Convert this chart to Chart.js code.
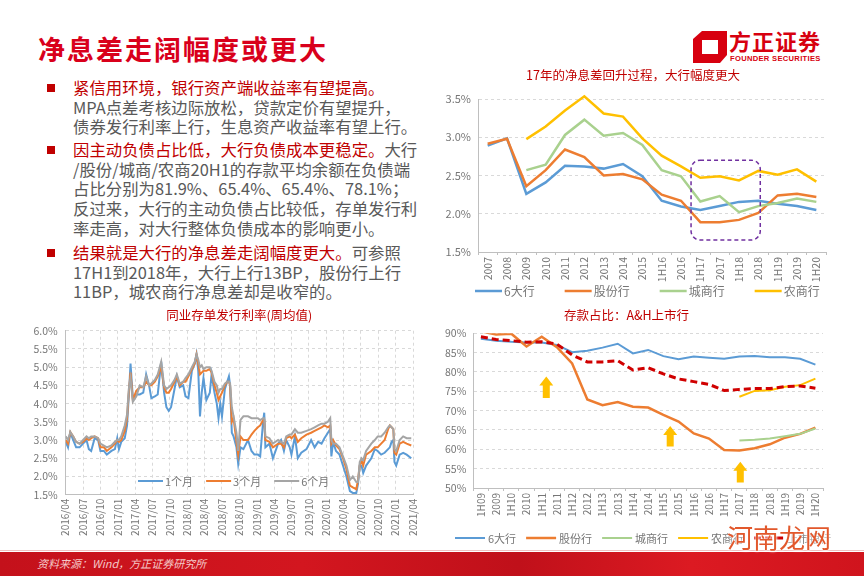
<!DOCTYPE html>
<html>
<head>
<meta charset="utf-8">
<script src="https://cdn.jsdelivr.net/npm/chart.js@4.4.0/dist/chart.umd.min.js"></script>
<style>
  body { margin: 0; width: 864px; height: 576px; overflow: hidden; background: #fff; position: relative;
         font-family: 'Noto Sans CJK SC', 'Noto Sans', sans-serif; }
  .abs { position: absolute; }
  #title { left: 38px; top: 31px; font-size: 27px; font-weight: bold; color: #d9001b; letter-spacing: 2px; line-height: 36px; }
  .para { left: 73px; font-size: 16.4px; line-height: 19.7px; color: #595959; white-space: nowrap; }
  .para b { font-weight: normal; color: #c00000; }
  .bullet { left: 47px; width: 8px; height: 8px; background: #c00000; }
  #logoText { left: 729px; top: 27px; font-size: 22px; font-weight: bold; color: #d7000f; letter-spacing: 1px; line-height: 26px; }
  #logoSub { left: 730px; top: 54px; font-family: 'Liberation Sans', sans-serif; font-size: 7.6px; font-weight: bold; color: #d7000f; letter-spacing: 0.3px; }
  #footer { left: 0; top: 552px; width: 864px; height: 24px;
            background: linear-gradient(90deg, #c4111b 0%, #d3161f 35%, #c0101a 60%, #dc1a22 80%, #d0141d 100%); }
  #footLine { left: 0; top: 550px; width: 864px; height: 1px; background: #efc0c0; }
  #source { left: 37px; top: 555px; font-size: 11px; font-style: italic; color: #f4c8c8; line-height: 16px; }
  #wm { left: 727px; top: 518px; font-size: 26px; color: #e2582c; text-shadow: 0 0 3px #fff, 0 0 3px #fff; }
  canvas { position: absolute; }
</style>
</head>
<body>
<div id="title" class="abs">净息差走阔幅度或更大</div>

<svg class="abs" style="left:693px;top:31px" width="34" height="32" viewBox="0 0 34 32">
  <path fill="#d7000f" fill-rule="evenodd" d="M9 0 H34 V24 L27 32 H0 V8 Z M9 9 H25 V23 H9 Z"/>
</svg>
<div id="logoText" class="abs">方正证券</div>
<div id="logoSub" class="abs">FOUNDER SECURITIES</div>

<div class="bullet abs" style="top:84px"></div>
<div class="para abs" style="top:78px"><b>紧信用环境，银行资产端收益率有望提高。</b><br>MPA点差考核边际放松，贷款定价有望提升，<br>债券发行利率上行，生息资产收益率有望上行。</div>
<div class="bullet abs" style="top:146px"></div>
<div class="para abs" style="top:140px"><b>因主动负债占比低，大行负债成本更稳定。</b>大行<br>/股份/城商/农商20H1的存款平均余额在负债端<br>占比分别为81.9%、65.4%、65.4%、78.1%；<br>反过来，大行的主动负债占比较低，存单发行利<br>率走高，对大行整体负债成本的影响更小。</div>
<div class="bullet abs" style="top:249px"></div>
<div class="para abs" style="top:243px"><b>结果就是大行的净息差走阔幅度更大。</b>可参照<br>17H1到2018年，大行上行13BP，股份行上行<br>11BP，城农商行净息差却是收窄的。</div>

<canvas id="nimChart" width="400" height="244" style="left:440px;top:62px"></canvas>
<canvas id="cdChart" width="430" height="250" style="left:0px;top:302px"></canvas>
<canvas id="depChart" width="434" height="250" style="left:430px;top:302px"></canvas>

<div id="footLine" class="abs"></div>
<div id="footer" class="abs"></div>
<div id="source" class="abs">资料来源：Wind，方正证券研究所</div>
<div id="wm" class="abs">河南龙网</div>

<script>
// ---- 净息差 (top right)
const nimLabels = ["2007", "2008", "2009", "2010", "2011", "2012", "2013", "2014", "2015", "1H16",
  "2016", "1H17", "2017", "1H18", "2018", "1H19", "2019", "1H20"];
const nimBig6 = [2.89, 2.985, 2.26, 2.41, 2.627, 2.618, 2.59, 2.65, 2.49, 2.17, 2.094, 2.05, 2.10, 2.155, 2.17, 2.13, 2.10, 2.05];
const nimJoint = [2.915, 2.98, 2.36, 2.57, 2.84, 2.74, 2.50, 2.52, 2.45, 2.25, 2.17, 1.89, 1.89, 1.92, 2.01, 2.24, 2.26, 2.22];
const nimCity = [null, null, 2.57, 2.64, 3.03, 3.23, 3.02, 3.055, 2.90, 2.57, 2.49, 2.16, 2.23, 2.02, 2.10, 2.14, 2.20, 2.155];
const nimRural = [null, null, 2.975, 3.14, 3.35, 3.535, 3.31, 3.27, 2.985, 2.76, 2.62, 2.47, 2.49, 2.435, 2.56, 2.51, 2.58, 2.42];

// ---- 同业存单发行利率 (bottom left), x = months after 2016/04
const cdMonths = [
  0, 0.4, 0.8, 1.3, 1.8, 2.4, 3.0, 3.6, 4.0, 4.4,
  5.0, 5.6, 6.0, 6.6, 7.1, 7.9, 8.5, 8.9, 9.2, 9.6,
  10.2, 10.6, 10.9, 11.2, 11.6, 12.2, 12.8, 13.4, 13.9, 14.4,
  14.8, 15.4, 15.9, 16.5, 17.0, 17.4, 17.8, 18.2, 18.8, 19.2,
  19.7, 20.3, 20.7, 21.2, 21.8, 22.3, 22.6, 22.9, 23.2, 23.5,
  23.8, 24.3, 24.9, 25.2, 25.7, 26.1, 26.4, 26.7, 27.0, 27.5,
  27.9, 28.2, 28.4, 28.7, 29.0, 29.5, 29.8, 30.2, 30.7, 31.5,
  32.1, 32.6, 33.2, 33.6, 34.1, 34.3, 34.5, 35.2, 35.8, 36.7,
  37.2, 37.7, 38.1, 38.7, 39.0, 39.6, 40.1, 40.7, 41.6, 42.4,
  43.0, 43.6, 44.2, 44.7, 45.3, 45.7, 45.9, 46.2, 46.7, 47.3,
  47.9, 48.5, 49.1, 49.6, 50.2, 50.5, 50.8, 51.1, 51.4, 51.9,
  52.8, 53.4, 53.9, 54.5, 55.1, 55.7, 56.0, 56.3, 56.6, 56.8,
  57.1, 57.7, 58.3, 58.9, 59.7];
const cd1M = [
  2.95, 2.8, 3.2, 3.0, 2.8, 2.8, 2.9, 3.0, 2.75, 2.7,
  3.05, 3.0, 2.7, 2.7, 2.6, 2.7, 2.75, 3.05, 2.75, 2.95,
  3.05, 3.4, 4.2, 5.1, 4.15, 4.25, 4.25, 4.3, 4.8, 4.5,
  4.15, 4.2, 4.25, 5.15, 4.3, 3.9, 3.8, 3.9, 4.4, 4.75,
  4.45, 4.5, 4.2, 4.15, 4.9, 5.1, 5.35, 4.9, 3.65, 4.3,
  4.7, 4.1, 4.3, 4.8, 4.3, 4.0, 3.6, 4.0, 3.65, 4.4,
  4.6, 4.75, 4.5, 3.2, 3.1, 2.8, 2.35, 2.8, 2.75, 3.0,
  2.7, 2.6, 2.6, 2.55, 3.5, 3.75, 2.8, 2.9, 2.5, 2.9,
  3.0, 2.7, 3.0, 2.8, 2.6, 3.1, 2.5, 2.65, 2.75, 3.0,
  2.8, 2.95, 2.9, 3.05, 3.2, 3.3, 2.55, 2.95, 2.7, 2.6,
  2.3, 2.0, 1.6, 1.55, 1.55, 1.8, 2.3, 2.3, 2.1, 2.3,
  2.5, 2.75, 2.7, 2.6, 2.65, 2.75, 2.8, 2.95, 3.0, 2.4,
  2.3, 2.6, 2.65, 2.6, 2.5];
const cd3M = [
  3.0, 2.9, 3.22, 3.1, 2.95, 2.9, 2.95, 3.05, 3.0, 3.05,
  3.1, 3.05, 2.8, 2.8, 2.7, 2.8, 2.9, 3.0, 2.95, 3.0,
  3.25, 3.6, 4.3, 4.85, 4.1, 4.35, 4.45, 4.45, 4.6, 4.5,
  4.5, 4.6, 4.75, 5.0, 4.45, 4.3, 4.3, 4.4, 4.6, 4.75,
  4.5, 4.6, 4.6, 4.75, 4.95, 5.1, 5.35, 5.1, 4.8, 4.85,
  4.9, 4.9, 4.95, 4.85, 4.5, 4.3, 4.1, 4.2, 4.3, 4.5,
  4.6, 4.6, 4.5, 3.5, 3.6, 2.95, 2.6, 3.1, 3.0, 3.0,
  3.15, 3.25, 3.35, 3.4, 3.55, 3.55, 3.0, 2.95, 2.8, 2.9,
  2.9, 2.8, 3.05, 3.1, 3.05, 3.15, 2.95, 3.05, 3.15, 3.2,
  3.25, 3.3, 3.35, 3.4, 3.35, 3.4, 2.9, 3.0, 2.85, 2.75,
  2.5, 2.2, 1.75, 1.7, 1.65, 1.9, 2.3, 2.45, 2.3, 2.6,
  2.7, 2.8, 2.8, 2.9, 3.0, 3.3, 3.4, 3.35, 3.3, 2.65,
  2.6, 2.9, 2.95, 2.9, 2.85];
const cd6M = [
  3.1, 3.0, 3.22, 3.1, 2.95, 2.9, 3.0, 3.1, 3.05, 3.1,
  3.1, 3.05, 2.9, 2.85, 2.8, 2.85, 2.95, 3.0, 3.0, 3.1,
  3.4, 3.7, 4.4, 4.7, 4.05, 4.2, 4.5, 4.45, 4.75, 4.5,
  4.55, 4.65, 4.8, 5.15, 4.5, 4.4, 4.45, 4.5, 4.65, 4.8,
  4.55, 4.6, 4.7, 4.8, 5.0, 5.15, 5.35, 5.2, 5.0, 5.05,
  4.95, 5.0, 5.0, 4.9, 4.6, 4.5, 4.3, 4.4, 4.4, 4.55,
  4.6, 4.6, 4.55, 3.9, 3.65, 3.2, 2.7, 3.55, 3.65, 3.65,
  3.6, 3.6, 3.6, 3.55, 3.6, 3.6, 3.1, 3.05, 2.9, 3.0,
  2.95, 2.9, 3.1, 3.15, 3.15, 3.3, 3.2, 3.2, 3.25, 3.3,
  3.35, 3.4, 3.45, 3.45, 3.5, 3.6, 3.0, 2.9, 2.9, 2.8,
  2.55, 2.3, 1.9, 2.0, 1.85, 1.85, 2.4, 2.5, 2.45, 2.7,
  2.9, 3.0, 3.1, 3.1, 3.2, 3.35, 3.4, 3.35, 3.3, 2.75,
  2.7, 3.0, 3.1, 3.05, 3.05];
const cdTickLabels = ["2016/04", "2016/07", "2016/10", "2017/01", "2017/04", "2017/07", "2017/10",
  "2018/01", "2018/04", "2018/07", "2018/10", "2019/01", "2019/04", "2019/07", "2019/10",
  "2020/01", "2020/04", "2020/07", "2020/10", "2021/01", "2021/04"];

// ---- 存款占比 (bottom right)
const depLabels = ["1H09", "2009", "1H10", "2010", "1H11", "2011", "1H12", "2012", "1H13", "2013", "1H14",
  "2014", "1H15", "2015", "1H16", "2016", "1H17", "2017", "1H18", "2018", "1H19", "2019", "1H20"];
const depBig6 = [88.6, 88.1, 87.8, 87.6, 87.6, 87.0, 85.1, 85.5, 86.3, 87.3, 84.8, 85.7, 84.1, 83.3, 84.0, 83.7, 83.4, 84.0, 84.1, 83.8, 83.8, 83.4, 81.9];
const depJoint = [90.5, 89.7, 89.9, 86.6, 89.1, 86.4, 82.2, 72.9, 71.4, 72.2, 71.0, 70.8, 68.9, 67.2, 64.1, 62.8, 59.8, 59.7, 60.3, 61.3, 63.0, 64.0, 65.6];
const depCity = [null, null, null, null, null, null, null, null, null, null, null, null, null, null, null, null, null,
  62.3, 62.5, 62.8, 63.4, 64.0, 65.4];
const depRural = [null, null, null, null, null, null, null, null, null, null, null, null, null, null, null, null, null,
  73.6, 75.1, 75.3, 76.2, 76.6, 78.3];
const depListed = [89.1, 88.4, 88.1, 87.7, 87.8, 87.2, 84.4, 82.6, 82.6, 82.9, 80.5, 81.1, 79.5, 78.2, 77.5, 76.8, 75.2, 75.5, 75.7, 75.7, 76.2, 76.4, 75.8];

const FONT = "'Noto Sans CJK SC', 'Noto Sans', sans-serif";
Chart.defaults.font.family = FONT;
Chart.defaults.color = "#767676";

const BLUE = "#5b9bd5", ORANGE = "#ed7d31", GRAY = "#a5a5a5", GREEN = "#a9d18e", YELLOW = "#ffc000", RED = "#d00000";

// legend drawn as a line + text row
const lineLegend = {
  id: "lineLegend",
  afterDraw(chart, args, o) {
    if (!o || !o.show) return;
    const ctx = chart.ctx;
    ctx.save();
    ctx.font = o.size + "px " + FONT;
    ctx.textBaseline = "middle";
    let x = o.x;
    chart.data.datasets.forEach((ds) => {
      ctx.strokeStyle = ds.borderColor;
      ctx.lineWidth = ds.borderWidth;
      ctx.setLineDash(ds.borderDash || []);
      ctx.beginPath();
      ctx.moveTo(x, o.y);
      ctx.lineTo(x + o.lineLen, o.y);
      ctx.stroke();
      ctx.setLineDash([]);
      ctx.fillStyle = "#767676";
      ctx.fillText(ds.label, x + o.lineLen + o.gap, o.y + 0.5);
      x += o.lineLen + o.gap + ctx.measureText(ds.label).width + o.spacing;
    });
    ctx.restore();
  },
};

// dashed box and up arrows, placed in data units
const marks = {
  id: "marks",
  afterDatasetsDraw(chart, args, o) {
    const ctx = chart.ctx;
    const xs = chart.scales.x, ys = chart.scales.y;
    ctx.save();
    (o.boxes || []).forEach((b) => {
      const x0 = xs.getPixelForValue(b.x0), x1 = xs.getPixelForValue(b.x1);
      const y0 = ys.getPixelForValue(b.y1), y1 = ys.getPixelForValue(b.y0);
      ctx.strokeStyle = "#7030a0";
      ctx.lineWidth = 1.5;
      ctx.setLineDash([4, 3]);
      ctx.beginPath();
      ctx.roundRect(x0, y0, x1 - x0, y1 - y0, 9);
      ctx.stroke();
    });
    ctx.setLineDash([]);
    (o.arrows || []).forEach((a) => {
      const cx = xs.getPixelForValue(a.x);
      const top = ys.getPixelForValue(a.y1), bot = ys.getPixelForValue(a.y0);
      ctx.fillStyle = YELLOW;
      ctx.beginPath();
      ctx.moveTo(cx, top);
      ctx.lineTo(cx + 7, top + 9);
      ctx.lineTo(cx + 3.5, top + 9);
      ctx.lineTo(cx + 3.5, bot);
      ctx.lineTo(cx - 3.5, bot);
      ctx.lineTo(cx - 3.5, top + 9);
      ctx.lineTo(cx - 7, top + 9);
      ctx.closePath();
      ctx.fill();
    });
    ctx.restore();
  },
};

function line(label, data, color, order, extra) {
  return Object.assign({ label, data, borderColor: color, backgroundColor: color, borderWidth: 2.5,
    pointRadius: 0, tension: 0, order }, extra || {});
}

const dashGrid = { color: "#d9d9d9", lineWidth: 1, drawTicks: false };

new Chart(document.getElementById("nimChart"), {
  type: "line",
  data: {
    labels: nimLabels,
    datasets: [
      line("6大行", nimBig6, BLUE, 3, { clip: 8 }),
      line("股份行", nimJoint, ORANGE, 2, { clip: 8 }),
      line("城商行", nimCity, GREEN, 1, { clip: 8 }),
      line("农商行", nimRural, YELLOW, 0, { clip: 8 }),
    ],
  },
  plugins: [lineLegend, marks],
  options: {
    responsive: false,
    animation: false,
    layout: { padding: { right: 14, bottom: 14 } },
    plugins: {
      legend: { display: false },
      tooltip: { enabled: false },
      title: { display: true, text: "17年的净息差回升过程，大行幅度更大", color: "#c00000",
        font: { size: 12.5, weight: "normal" }, padding: { top: 6, bottom: 16 } },
      lineLegend: { show: true, x: 35, y: 229, size: 12, lineLen: 27, gap: 2, spacing: 30 },
      marks: { boxes: [{ x0: 10.52, x1: 14.1, y0: 1.657, y1: 2.70 }] },
    },
    scales: {
      x: {
        offset: true,
        grid: { drawOnChartArea: false, drawTicks: true, tickLength: 3, color: "#bfbfbf", offset: true },
        border: { color: "#bfbfbf" },
        ticks: { minRotation: 90, maxRotation: 90, autoSkip: false, padding: 2, font: { size: 10.5 } },
        afterFit(s) { s.height = 40; },
      },
      y: {
        min: 1.5, max: 3.5,
        grid: dashGrid,
        border: { color: "#bfbfbf", dash: [3, 3] },
        ticks: { stepSize: 0.5, padding: 7, font: { size: 11 }, callback: (v) => v.toFixed(1) + "%" },
        afterFit(s) { s.width = 38; },
      },
    },
  },
});

function pts(ys) {
  return ys.map((v, i) => ({ x: cdMonths[i], y: v }));
}

new Chart(document.getElementById("cdChart"), {
  type: "line",
  data: {
    datasets: [
      line("1个月", pts(cd1M), BLUE, 2, { borderWidth: 2 }),
      line("3个月", pts(cd3M), ORANGE, 1, { borderWidth: 2 }),
      line("6个月", pts(cd6M), GRAY, 0, { borderWidth: 2 }),
    ],
  },
  plugins: [lineLegend],
  options: {
    responsive: false,
    animation: false,
    layout: { padding: { right: 17, bottom: 5 } },
    plugins: {
      legend: { display: false },
      tooltip: { enabled: false },
      title: { display: true, fullSize: false, text: "同业存单发行利率(周均值)", color: "#c00000",
        font: { size: 12.5, weight: "normal" }, padding: { top: 5.5, bottom: 8.2 } },
      lineLegend: { show: true, x: 138, y: 179, size: 11, lineLen: 25, gap: 2, spacing: 13 },
    },
    scales: {
      x: {
        type: "linear", min: 0, max: 60,
        grid: dashGrid,
        border: { color: "#bfbfbf", dash: [3, 3] },
        ticks: { stepSize: 3, autoSkip: false, minRotation: 90, maxRotation: 90, padding: 4, font: { size: 10 },
          callback: (v) => cdTickLabels[Math.round(v / 3)] },
        afterFit(s) { s.height = 52.3; },
      },
      y: {
        min: 1.5, max: 6.0,
        grid: dashGrid,
        border: { color: "#bfbfbf", dash: [3, 3] },
        ticks: { stepSize: 0.5, padding: 8, font: { size: 10.5 }, callback: (v) => v.toFixed(1) + "%" },
        afterFit(s) { s.width = 65.7; },
      },
    },
  },
});

new Chart(document.getElementById("depChart"), {
  type: "line",
  data: {
    labels: depLabels,
    datasets: [
      line("6大行", depBig6, BLUE, 4, { borderWidth: 2 }),
      line("股份行", depJoint, ORANGE, 3),
      line("城商行", depCity, GREEN, 2, { borderWidth: 2 }),
      line("农商行", depRural, YELLOW, 1, { borderWidth: 2 }),
      line("上市银行", depListed, RED, 0, { borderWidth: 3, borderDash: [7, 4] }),
    ],
  },
  plugins: [lineLegend, marks],
  options: {
    responsive: false,
    animation: false,
    layout: { padding: { right: 41, bottom: 14 } },
    plugins: {
      legend: { display: false },
      tooltip: { enabled: false },
      title: { display: true, text: "存款占比：A&H上市行", color: "#c00000",
        font: { size: 12.5, weight: "normal" }, padding: { top: 5.5, bottom: 10.8 } },
      lineLegend: { show: true, x: 25, y: 236, size: 11, lineLen: 30, gap: 3, spacing: 10 },
      marks: { arrows: [{ x: 4.3, y0: 73.3, y1: 78.8 }, { x: 12.45, y0: 60.7, y1: 66.0 }, { x: 17.06, y0: 51.4, y1: 56.8 }] },
    },
    scales: {
      x: {
        offset: true,
        grid: { drawOnChartArea: false, drawTicks: true, tickLength: 3, color: "#bfbfbf", offset: true },
        border: { color: "#bfbfbf" },
        ticks: { minRotation: 90, maxRotation: 90, autoSkip: false, padding: 2, font: { size: 10 } },
        afterFit(s) { s.height = 50; },
      },
      y: {
        min: 50, max: 90,
        grid: dashGrid,
        border: { color: "#bfbfbf", dash: [3, 3] },
        ticks: { stepSize: 5, padding: 7, font: { size: 10.5 }, callback: (v) => v + "%" },
        afterFit(s) { s.width = 43.3; },
      },
    },
  },
});
</script>
</body>
</html>
